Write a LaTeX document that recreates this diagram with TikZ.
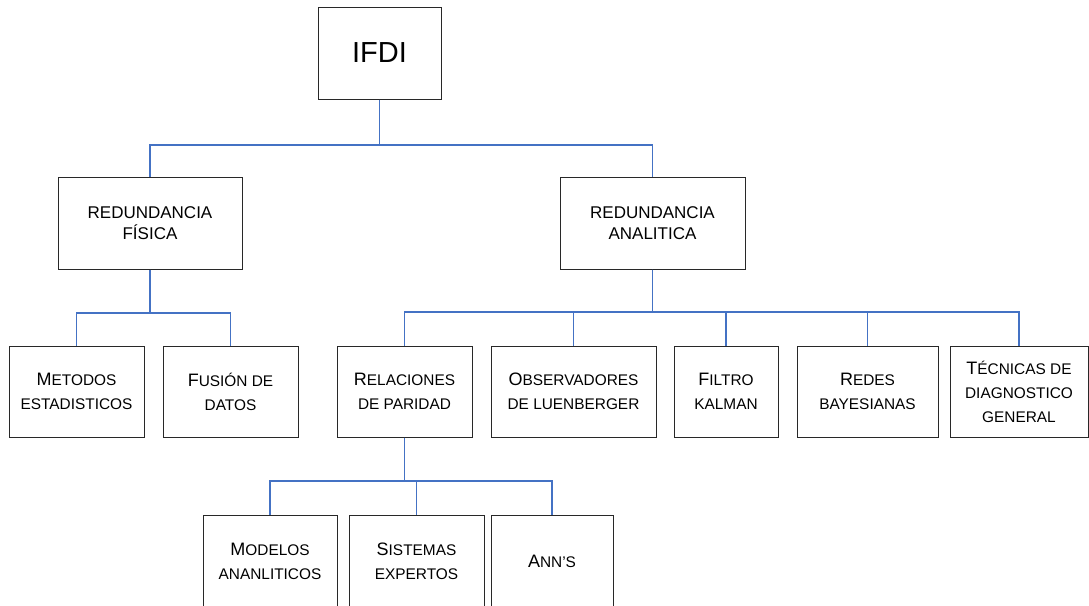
\documentclass[tikz,border=0pt]{standalone}
\usepackage{fontspec}
\setmainfont{Liberation Sans}
\definecolor{conncol}{RGB}{68,114,196}
\definecolor{boxcol}{RGB}{40,40,40}
\newcommand{\Sc}[1]{{\fontsize{15.4}{23.5}\selectfont #1}}
\begin{document}
\begin{tikzpicture}[x=1pt,y=-1pt,
  box/.style={draw=boxcol,line width=1pt,fill=white,inner sep=0pt,align=center,text=black},
  lvltwo/.style={box,font=\fontsize{17}{21}\selectfont},
  lvlthree/.style={box,font=\fontsize{18}{24}\selectfont},
  conn/.style={draw=conncol,line width=1.1pt}]
\clip (0,0) rectangle (1089,605);
\fill[white] (0,0) rectangle (1089,605);
% nodes
\node[box,font=\fontsize{29}{34}\selectfont,minimum width=123,minimum height=92] (ifdi) at (379.5,53) {IFDI};
\node[lvltwo,minimum width=184,minimum height=92] (rf) at (150,223) {REDUNDANCIA\\FÍSICA};
\node[lvltwo,minimum width=185,minimum height=92] (ra) at (652.5,223) {REDUNDANCIA\\ANALITICA};
\node[lvlthree,minimum width=135,minimum height=91] (me) at (76.5,391.5) {M\Sc{ETODOS}\\\Sc{ESTADISTICOS}};
\node[lvlthree,minimum width=135,minimum height=91] (fu) at (230.5,391.5) {F\Sc{USIÓN DE}\\\Sc{DATOS}};
\node[lvlthree,minimum width=135,minimum height=91] (rel) at (404.5,391.5) {R\Sc{ELACIONES}\\\Sc{DE PARIDAD}};
\node[lvlthree,minimum width=165,minimum height=91] (obs) at (573.5,391.5) {O\Sc{BSERVADORES}\\\Sc{DE LUENBERGER}};
\node[lvlthree,minimum width=104,minimum height=91] (fil) at (726,391.5) {F\Sc{ILTRO}\\\Sc{KALMAN}};
\node[lvlthree,minimum width=141,minimum height=91] (red) at (867.5,391.5) {R\Sc{EDES}\\\Sc{BAYESIANAS}};
\node[lvlthree,minimum width=138,minimum height=91] (tec) at (1019,391.5) {T\Sc{ÉCNICAS DE}\\\Sc{DIAGNOSTICO}\\\Sc{GENERAL}};
\node[lvlthree,minimum width=134,minimum height=92] (mod) at (270,561) {M\Sc{ODELOS}\\\Sc{ANANLITICOS}};
\node[lvlthree,minimum width=135,minimum height=92] (sis) at (416.5,561) {S\Sc{ISTEMAS}\\\Sc{EXPERTOS}};
\node[lvlthree,minimum width=122,minimum height=92] (ann) at (552,561) {A\Sc{NN’S}};
% bus levels
\coordinate (b1) at (0,145);
\coordinate (b2) at (0,313);
\coordinate (b3) at (0,312);
\coordinate (b4) at (0,481);
% connectors
\foreach \c in {rf,ra}
  \draw[conn] (ifdi.south) -- (ifdi.south |- b1) -| (\c.north);
\foreach \c in {me,fu}
  \draw[conn] (rf.south) -- (rf.south |- b2) -| (\c.north);
\foreach \c in {rel,obs,fil,red,tec}
  \draw[conn] (ra.south) -- (ra.south |- b3) -| (\c.north);
\foreach \c in {mod,sis,ann}
  \draw[conn] (rel.south) -- (rel.south |- b4) -| (\c.north);
\end{tikzpicture}
\end{document}
